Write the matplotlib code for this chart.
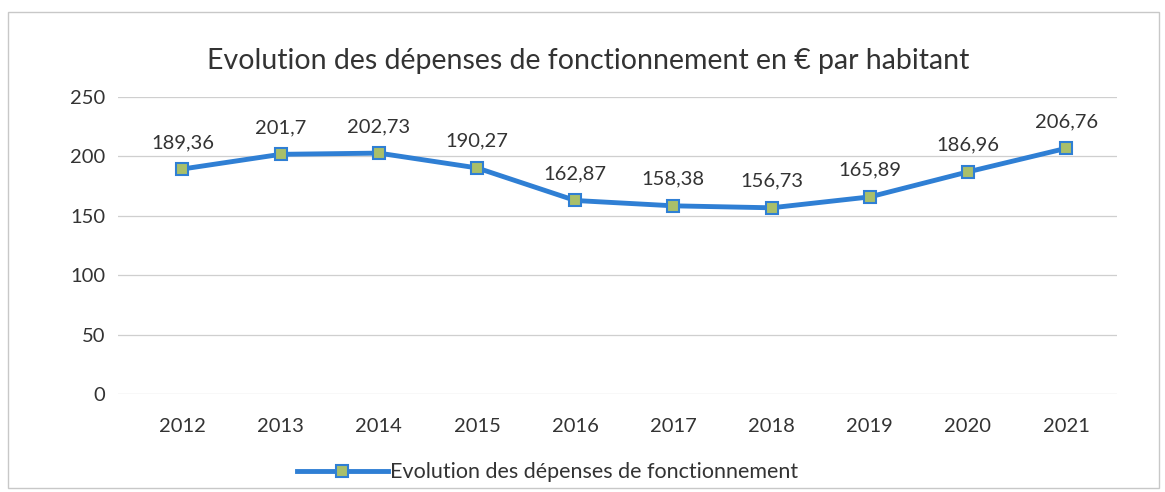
import matplotlib.pyplot as plt
from matplotlib.patches import Rectangle

years = ['2012', '2013', '2014', '2015', '2016', '2017', '2018', '2019', '2020', '2021']
values = [189.36, 201.7, 202.73, 190.27, 162.87, 158.38, 156.73, 165.89, 186.96, 206.76]

plt.rcParams['font.family'] = ['Lato', 'DejaVu Sans']

fig = plt.figure(figsize=(11.65, 4.92), dpi=100)
ax = fig.add_axes([0.101, 0.199, 0.858, 0.604])

x = range(len(years))
ax.plot(x, values, color='#2f7fd4', lw=3.5, marker='s', markersize=9,
        markerfacecolor='#a9bf6a', markeredgecolor='#2f7fd4', markeredgewidth=1.5,
        label='Evolution des dépenses de fonctionnement', zorder=3)

for i, v in enumerate(values):
    ax.annotate(f"{v:g}".replace('.', ','), (i, v), xytext=(0, 13), textcoords='offset points',
                ha='center', va='bottom', fontsize=14.5, color='#333333')

ax.set_ylim(0, 250)
ax.set_xlim(-0.66, 9.52)
ax.set_yticks([0, 50, 100, 150, 200, 250])
ax.set_xticks(list(x))
ax.set_xticklabels(years)
ax.grid(axis='y', color='#cfcfcf', lw=0.9)
ax.set_axisbelow(True)
for s in ax.spines.values():
    s.set_visible(False)
ax.tick_params(length=0, labelsize=14.5, colors='#333333')
ax.tick_params(axis='y', pad=9)
ax.tick_params(axis='x', pad=17)

fig.text(0.505, 0.875, 'Evolution des dépenses de fonctionnement en € par habitant',
         ha='center', va='center', fontsize=20.5, color='#333333')

ax.legend(loc='upper center', bbox_to_anchor=(0.43, -0.165), frameon=False,
          fontsize=15.5, handlelength=4.2, handletextpad=0.1, labelcolor='#333333')

fig.patches.append(Rectangle((0.007, 0.008), 0.988, 0.967, transform=fig.transFigure,
                             fill=False, edgecolor='#c8c8c8', lw=1))

fig.savefig('out.png', dpi=100)
